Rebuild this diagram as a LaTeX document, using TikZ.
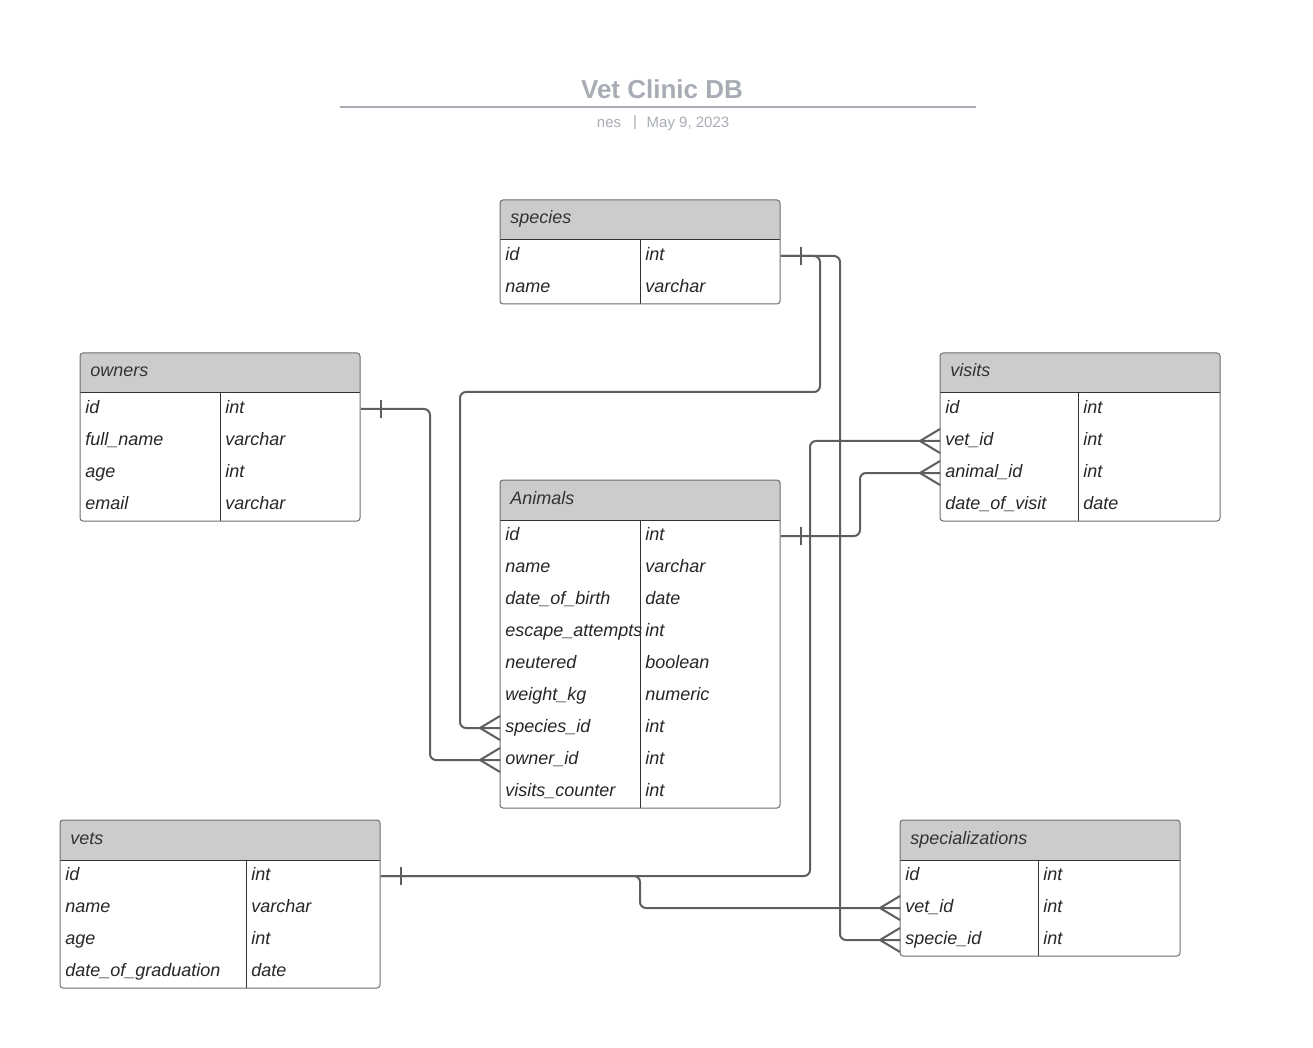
\documentclass[tikz,border=0pt]{standalone}
\usepackage{fontspec}
\setmainfont{Liberation Sans}
\usepackage{tikz}
\definecolor{title_gray}{HTML}{A8ACB4}
\definecolor{head_gray}{HTML}{CCCCCC}
\definecolor{frame_gray}{HTML}{6E6E6E}
\definecolor{rule_dark}{HTML}{333333}
\definecolor{link_gray}{HTML}{5E5E5E}
\definecolor{cell_text}{HTML}{262626}
\newcommand{\cellfont}{\fontsize{9}{11}\selectfont\itshape}
\tikzstyle{title_text} = [inner sep=0pt, text=title_gray, font=\fontsize{13}{15}\selectfont\bfseries]
\tikzstyle{sub_text} = [inner sep=0pt, text=title_gray, font=\fontsize{7.5}{9}\selectfont]
\tikzstyle{head_text} = [anchor=west, inner sep=0pt, text height=7pt, text depth=2pt, text=rule_dark, font=\cellfont]
\tikzstyle{key_cell} = [anchor=west, inner xsep=2.5pt, inner ysep=0pt, text height=7pt, text depth=2.5pt, minimum height=16pt, text=cell_text, font=\cellfont]
\tikzstyle{type_cell} = [key_cell, align=left]
\tikzstyle{tbl_frame} = [draw=frame_gray, line width=0.5pt, rounded corners=1.5pt]
\tikzstyle{tbl_rule} = [draw=rule_dark, line width=0.5pt]
\tikzstyle{rel_line} = [draw=link_gray, line width=1pt, rounded corners=3pt]
\tikzset{
  one_bar/.pic={\draw[rel_line] (0,-9) -- (0,9);},
  crow_foot/.pic={\draw[rel_line] (-20,0) -- (0,-12) (-20,0) -- (0,12);}
}

\begin{document}
\begin{tikzpicture}[x=0.5pt,y=-0.5pt]
\useasboundingbox (0,0) rectangle (1313,1048);

% title block
\node[title_text] (title) at (662,89) {Vet Clinic DB};
\draw[draw=title_gray, line width=1pt] (340,107) -- (976,107);
\node[sub_text] (author) at (609,124) {nes};
\node[sub_text] (bar) at (635,123) {|};
\node[sub_text] (date) at (688,124) {May 9, 2023};

% species
\fill[head_gray, rounded corners=1.5pt] (500,200) rectangle (780,240);
\fill[head_gray] (500,225) rectangle (780,240);
\node[head_text] (species) at (510,219) {species};
\foreach \r/\k/\fld/\typ in {1/id/id/int, 2/name/name/varchar} {
  \node[key_cell] (species-\k) at (500,224+32*\r) {\fld};
  \node[type_cell, text width=65pt] (species-\k-t) at (640,224+32*\r) {\typ};
}
\draw[tbl_rule] (500,240) -- (780,240) (640,240) -- (640,304);
\draw[tbl_frame] (500,200) rectangle (780,304);

% owners
\fill[head_gray, rounded corners=1.5pt] (80,353) rectangle (360,393);
\fill[head_gray] (80,378) rectangle (360,393);
\node[head_text] (owners) at (90,372) {owners};
\foreach \r/\k/\fld/\typ in {1/id/id/int, 2/fullname/full\_name/varchar, 3/age/age/int, 4/email/email/varchar} {
  \node[key_cell] (owners-\k) at (80,377+32*\r) {\fld};
  \node[type_cell, text width=65pt] (owners-\k-t) at (220,377+32*\r) {\typ};
}
\draw[tbl_rule] (80,393) -- (360,393) (220,393) -- (220,521);
\draw[tbl_frame] (80,353) rectangle (360,521);

% visits
\fill[head_gray, rounded corners=1.5pt] (940,353) rectangle (1220,393);
\fill[head_gray] (940,378) rectangle (1220,393);
\node[head_text] (visits) at (950,372) {visits};
\foreach \r/\k/\fld/\typ in {1/id/id/int, 2/vet/vet\_id/int, 3/animal/animal\_id/int, 4/date/date\_of\_visit/date} {
  \node[key_cell] (visits-\k) at (940,377+32*\r) {\fld};
  \node[type_cell, text width=66pt] (visits-\k-t) at (1078,377+32*\r) {\typ};
}
\draw[tbl_rule] (940,393) -- (1220,393) (1078,393) -- (1078,521);
\draw[tbl_frame] (940,353) rectangle (1220,521);

% animals
\fill[head_gray, rounded corners=1.5pt] (500,480) rectangle (780,520);
\fill[head_gray] (500,505) rectangle (780,520);
\node[head_text] (animals) at (510,499) {Animals};
\foreach \r/\k/\fld/\typ in {1/id/id/int, 2/name/name/varchar, 3/birth/date\_of\_birth/date,
    4/escape/escape\_attempts/int, 5/neutered/neutered/boolean, 6/weight/weight\_kg/numeric,
    7/species/species\_id/int, 8/owner/owner\_id/int, 9/visits/visits\_counter/int} {
  \node[key_cell] (animals-\k) at (500,504+32*\r) {\fld};
  \node[type_cell, text width=65pt] (animals-\k-t) at (640,504+32*\r) {\typ};
}
\draw[tbl_rule] (500,520) -- (780,520) (640,520) -- (640,808);
\draw[tbl_frame] (500,480) rectangle (780,808);

% vets
\fill[head_gray, rounded corners=1.5pt] (60,820) rectangle (380,860);
\fill[head_gray] (60,845) rectangle (380,860);
\node[head_text] (vets) at (70,839) {vets};
\foreach \r/\k/\fld/\typ in {1/id/id/int, 2/name/name/varchar, 3/age/age/int, 4/grad/date\_of\_graduation/date} {
  \node[key_cell] (vets-\k) at (60,844+32*\r) {\fld};
  \node[type_cell, text width=62pt] (vets-\k-t) at (246,844+32*\r) {\typ};
}
\draw[tbl_rule] (60,860) -- (380,860) (246,860) -- (246,988);
\draw[tbl_frame] (60,820) rectangle (380,988);

% specializations
\fill[head_gray, rounded corners=1.5pt] (900,820) rectangle (1180,860);
\fill[head_gray] (900,845) rectangle (1180,860);
\node[head_text] (spec) at (910,839) {specializations};
\foreach \r/\k/\fld/\typ in {1/id/id/int, 2/vet/vet\_id/int, 3/specie/specie\_id/int} {
  \node[key_cell] (spec-\k) at (900,844+32*\r) {\fld};
  \node[type_cell, text width=66pt] (spec-\k-t) at (1038,844+32*\r) {\typ};
}
\draw[tbl_rule] (900,860) -- (1180,860) (1038,860) -- (1038,956);
\draw[tbl_frame] (900,820) rectangle (1180,956);

% relations
\draw[rel_line] (species-id-t.east) -| (820,392) -| (460,728) -- (animals-species.west);
\draw[rel_line] (species-id-t.east) -| (840,940) -- (spec-specie.west);
\draw[rel_line] (owners-id-t.east) -| (430,760) -- (animals-owner.west);
\draw[rel_line] (animals-id-t.east) -| (860,473) -- (visits-animal.west);
\draw[rel_line] (vets-id-t.east) -| (810,441) -- (visits-vet.west);
\draw[rel_line] (vets-id-t.east) -| (640,908) -- (spec-vet.west);

% ends
\pic at ([xshift=10pt]species-id-t.east) {one_bar};
\pic at ([xshift=10pt]owners-id-t.east) {one_bar};
\pic at ([xshift=10pt]animals-id-t.east) {one_bar};
\pic at ([xshift=10pt]vets-id-t.east) {one_bar};
\pic at (animals-species.west) {crow_foot};
\pic at (animals-owner.west) {crow_foot};
\pic at (visits-vet.west) {crow_foot};
\pic at (visits-animal.west) {crow_foot};
\pic at (spec-vet.west) {crow_foot};
\pic at (spec-specie.west) {crow_foot};
\end{tikzpicture}
\end{document}
